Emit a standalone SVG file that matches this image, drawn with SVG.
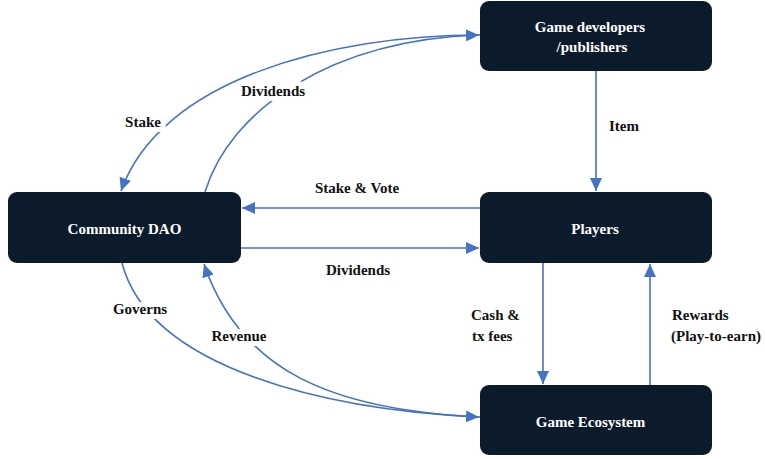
<svg xmlns="http://www.w3.org/2000/svg" width="765" height="459" viewBox="0 0 765 459">
<style>
.node{fill:#0B1B2B;}
.nt{fill:#ffffff;font-weight:bold;font-size:15px;text-anchor:middle;}
.c{fill:none;stroke:#4472C4;stroke-width:1.6;}
.lb{fill:#111111;font-weight:bold;font-size:15px;text-anchor:middle;stroke:#ffffff;stroke-width:10;stroke-linejoin:round;paint-order:stroke;}
.ll{text-anchor:start;}
</style>
<defs>
<marker id="arr" markerUnits="userSpaceOnUse" markerWidth="14" markerHeight="12" refX="13" refY="6" orient="auto">
<path d="M0,0 L13,6 L0,12 Z" fill="#4472C4"/>
</marker>
</defs>
<rect width="765" height="459" fill="#ffffff"/>
<g id="connectors">
<path class="c" d="M596,71 L596,191" marker-end="url(#arr)"/>
<path class="c" d="M480,208 L242,208" marker-end="url(#arr)"/>
<path class="c" d="M241,248 L479,248" marker-end="url(#arr)"/>
<path class="c" d="M543,263 L543,384" marker-end="url(#arr)"/>
<path class="c" d="M650,385 L650,264" marker-end="url(#arr)"/>
<path class="c" d="M480,35 C330,35 160,80 121,191" marker-end="url(#arr)"/>
<path class="c" d="M205,192 C230,110 330,40 479,35" marker-end="url(#arr)"/>
<path class="c" d="M122,263 C150,370 330,410 479,417" marker-end="url(#arr)"/>
<path class="c" d="M480,417 C330,410 240,370 204,264" marker-end="url(#arr)"/>
</g>
<g id="labels" font-family="Liberation Serif, serif">
<text class="lb" x="143" y="127">Stake</text>
<text class="lb" x="273" y="96">Dividends</text>
<text class="lb" x="357" y="193">Stake &amp; Vote</text>
<text class="lb" x="358" y="275">Dividends</text>
<text class="lb" x="624" y="131">Item</text>
<text class="lb" x="140" y="314">Governs</text>
<text class="lb" x="239" y="341">Revenue</text>
<text class="lb ll" x="471" y="320">Cash &amp;</text>
<text class="lb ll" x="472" y="341">tx fees</text>
<text class="lb ll" x="672" y="320">Rewards</text>
<text class="lb ll" x="671" y="341">(Play-to-earn)</text>
</g>
<g id="node-devs" font-family="Liberation Serif, serif">
<rect class="node" x="480" y="1" width="232" height="70" rx="9"/>
<text class="nt" x="590" y="32">Game developers</text>
<text class="nt" x="592" y="52">/publishers</text>
</g>
<g id="node-dao" font-family="Liberation Serif, serif">
<rect class="node" x="8" y="192" width="233" height="71" rx="9"/>
<text class="nt" x="124.5" y="234">Community DAO</text>
</g>
<g id="node-players" font-family="Liberation Serif, serif">
<rect class="node" x="480" y="192" width="232" height="71" rx="9"/>
<text class="nt" x="595" y="234">Players</text>
</g>
<g id="node-ecosystem" font-family="Liberation Serif, serif">
<rect class="node" x="480" y="385" width="232" height="70" rx="9"/>
<text class="nt" x="590.5" y="427">Game Ecosystem</text>
</g>
</svg>
